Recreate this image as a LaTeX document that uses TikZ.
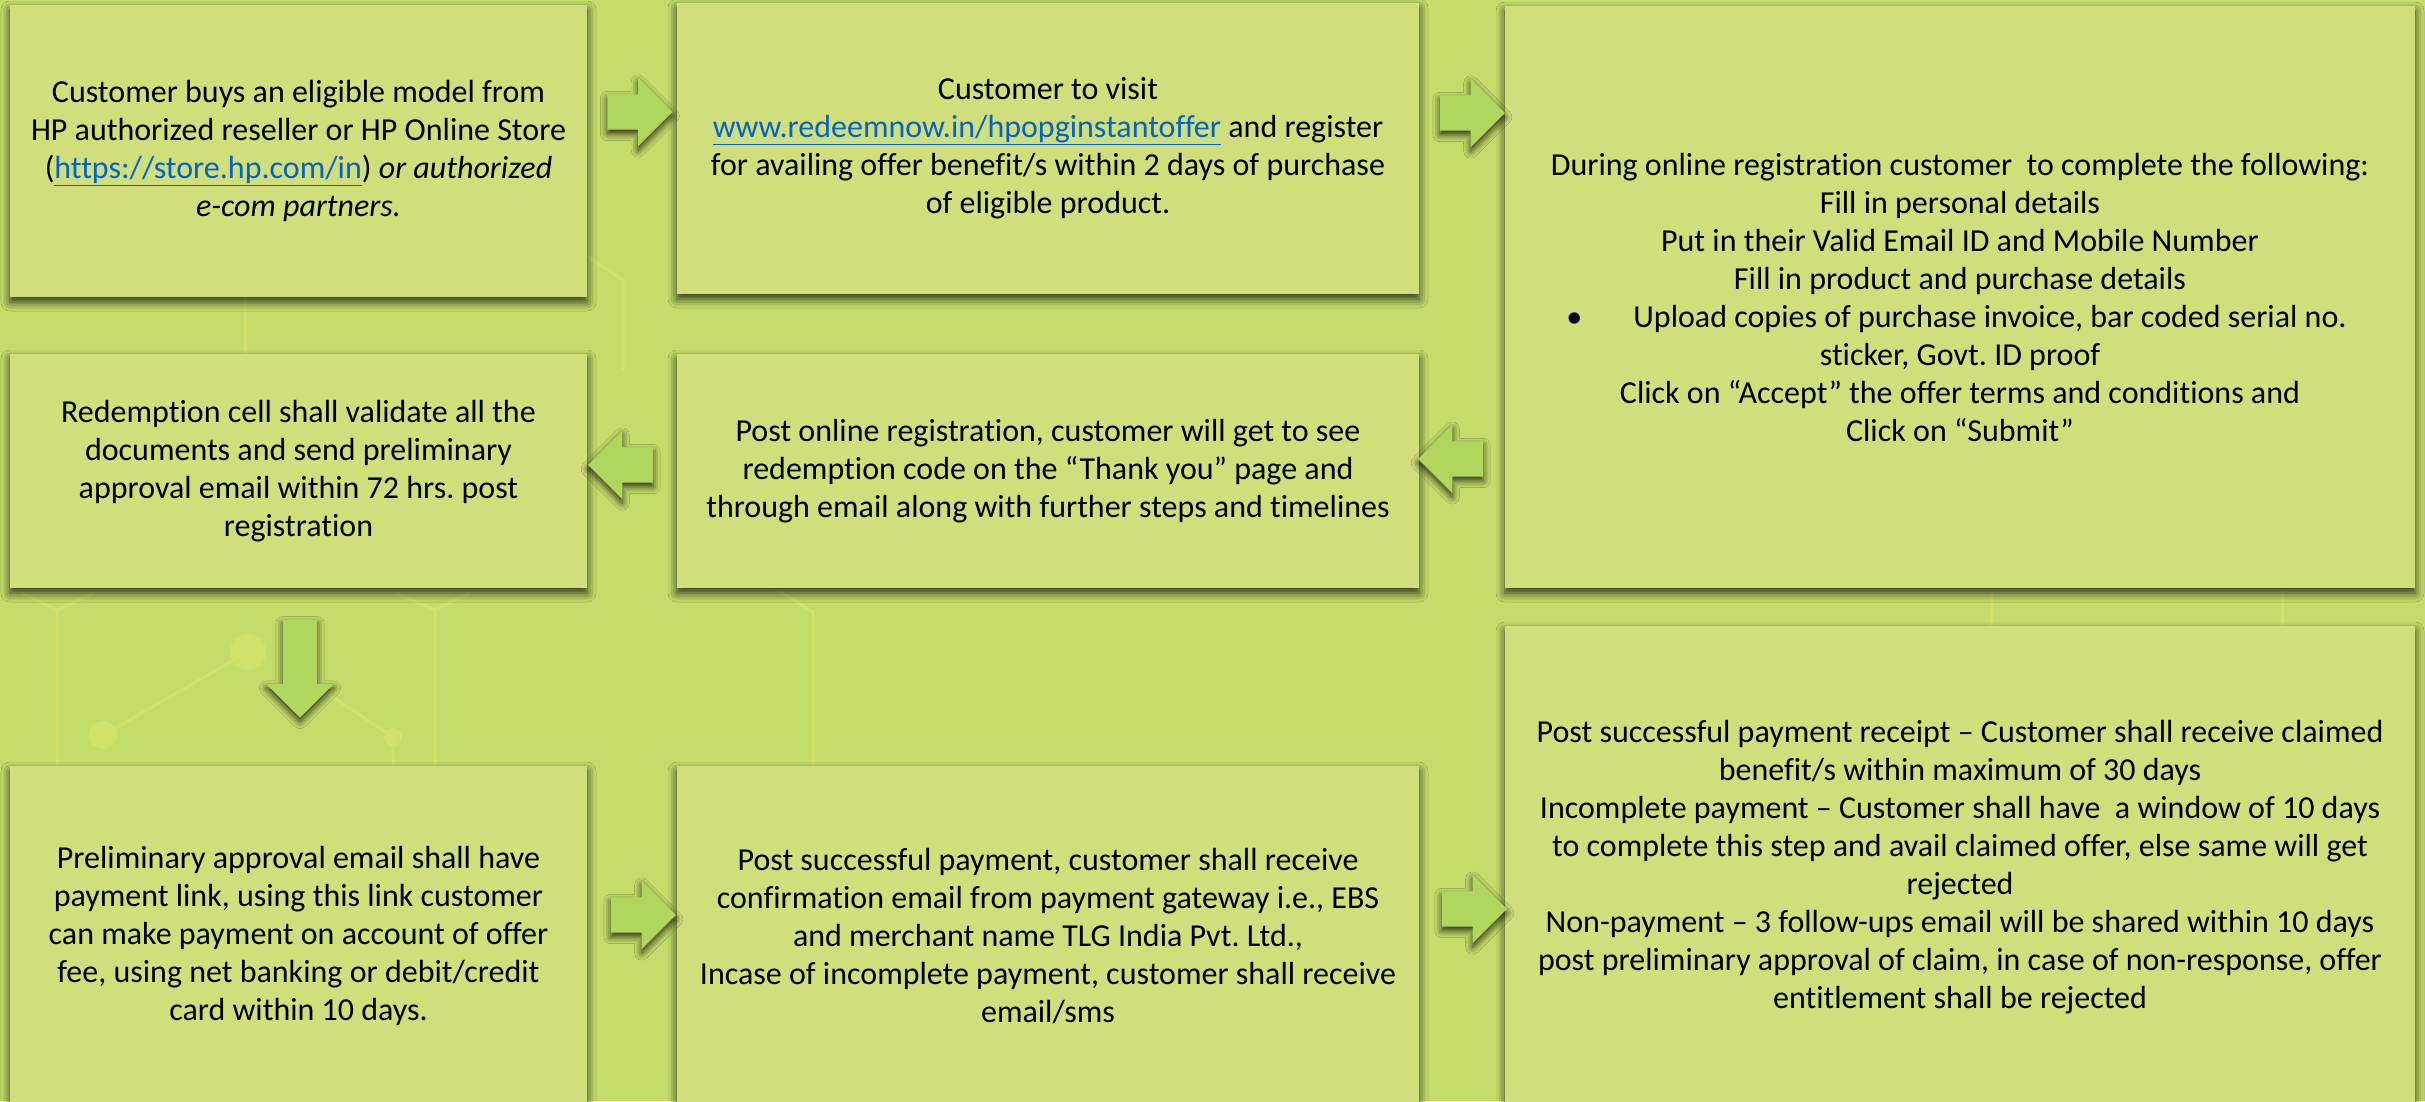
\documentclass[tikz,border=0pt]{standalone}
\usepackage{fontspec}
\setmainfont{Carlito}[Ligatures={NoCommon}]
\usetikzlibrary{shapes.arrows,shadows.blur}
\definecolor{bgc}{HTML}{C4DD6A}
\definecolor{boxc}{HTML}{D0DE7C}
\definecolor{arrc}{HTML}{B0D65E}
\definecolor{linkc}{HTML}{0563C1}
\definecolor{circ}{HTML}{D3E46B}
\newcommand{\weblink}[1]{\textcolor{linkc}{\underline{#1}}}
\frenchspacing
\begin{document}
\begin{tikzpicture}[x=1pt,y=-1pt,
  stepbox/.style={fill=boxc, draw=none, inner sep=0pt, align=center,
    font=\fontsize{32pt}{38pt}\selectfont\frenchspacing, text=black,
    blur shadow={shadow xshift=0pt, shadow yshift=-5pt, shadow blur radius=9pt, shadow opacity=80}},
  blockarrow/.style={single arrow, fill=arrc, draw=none, inner xsep=0pt, inner ysep=17.5pt,
    single arrow head extend=16.5pt, single arrow tip angle=90, single arrow head indent=0pt,
    minimum height=65pt,
    blur shadow={shadow xshift=0pt, shadow yshift=-4pt, shadow blur radius=7pt, shadow opacity=80}},
  circuit/.style={draw=circ, line width=3pt, opacity=0.8},
  dot/.style={fill=circ, opacity=0.8}
]
\useasboundingbox (0,0) rectangle (2425,1101);
\clip (0,0) rectangle (2425,1101);
\fill[bgc] (0,0) rectangle (2425,1101);

% faint circuit pattern in the background
\draw[circuit] (22,593) -- (57,610) -- (94,593);
\draw[circuit] (57,610) -- (57,770);
\draw[circuit] (395,593) -- (435,610) -- (470,593);
\draw[circuit] (435,610) -- (435,770);
\draw[circuit] (103,735) -- (248,652);
\draw[circuit] (330,695) -- (393,737) -- (393,770);
\fill[dot] (248,652) circle (18);
\fill[dot] (103,735) circle (14);
\fill[dot] (393,737) circle (9);
\draw[circuit] (774,588) -- (813,612) -- (813,770);
\draw[circuit] (585,255) -- (623,280) -- (623,370);
\draw[circuit] (245,290) -- (245,360);
\draw[circuit] (1991,585) -- (1991,630);
\draw[circuit] (2282,585) -- (2282,630);

% boxes
\node[stepbox, minimum width=577pt, minimum height=292pt] (b1) at (298.5,151) {%
Customer buys an eligible model from\\
HP authorized reseller or HP Online Store\\
(\weblink{https://store.hp.com/in}) \textit{or authorized}\\
\textit{e-com partners.}};

\node[stepbox, minimum width=742pt, minimum height=291pt] (b2) at (1048,148.5) {%
Customer to visit\\
\weblink{www.redeemnow.in/hpopginstantoffer} and register\\
for availing offer benefit/s within 2 days of purchase\\
of eligible product.};

\node[stepbox, minimum width=910pt, minimum height=582pt] (b3) at (1960,297) {%
During online registration customer\ \ to complete the following:\\
Fill in personal details\\
Put in their Valid Email ID and Mobile Number\\
Fill in product and purchase details\\
\hspace*{60pt}\llap{\textbullet\hspace{51pt}}Upload copies of purchase invoice, bar coded serial no.\\
sticker, Govt. ID proof\\
Click on “Accept” the offer terms and conditions and\\
Click on “Submit”};

\node[stepbox, minimum width=577pt, minimum height=234pt] (b4) at (298.5,471) {%
Redemption cell shall validate all the\\
documents and send preliminary\\
approval email within 72 hrs. post\\
registration};

\node[stepbox, minimum width=742pt, minimum height=234pt] (b5) at (1048,471) {%
Post online registration, customer will get to see\\
redemption code on the “Thank you” page and\\
through email along with further steps and timelines};

\node[stepbox, minimum width=577pt, minimum height=340pt] (b6) at (298.5,936) {%
Preliminary approval email shall have\\
payment link, using this link customer\\
can make payment on account of offer\\
fee, using net banking or debit/credit\\
card within 10 days.};

\node[stepbox, minimum width=742pt, minimum height=340pt] (b7) at (1048,936) {%
Post successful payment, customer shall receive\\
confirmation email from payment gateway i.e., EBS\\
and merchant name TLG India Pvt. Ltd.,\\
Incase of incomplete payment, customer shall receive\\
email/sms};

\node[stepbox, minimum width=910pt, minimum height=482pt] (b8) at (1960,867) {%
Post successful payment receipt – Customer shall receive claimed\\
benefit/s within maximum of 30 days\\
Incomplete payment – Customer shall have\ \ a window of 10 days\\
to complete this step and avail claimed offer, else same will get\\
rejected\\
Non-payment – 3 follow-ups email will be shared within 10 days\\
post preliminary approval of claim, in case of non-response, offer\\
entitlement shall be rejected};

% block arrows between the steps
\node[blockarrow] (r1) at (631,112) {};
\node[blockarrow] (r2) at (1463.5,113) {};
\node[blockarrow, shape border rotate=180] (l1) at (629.5,465) {};
\node[blockarrow, shape border rotate=180] (l2) at (1459.5,459) {};
\node[blockarrow, shape border rotate=270, inner xsep=17pt, inner ysep=17pt, minimum height=98pt] (d1) at (300,660) {};
\node[blockarrow] (r3) at (634.5,915) {};
\node[blockarrow] (r4) at (1465.5,909) {};
\end{tikzpicture}
\end{document}
